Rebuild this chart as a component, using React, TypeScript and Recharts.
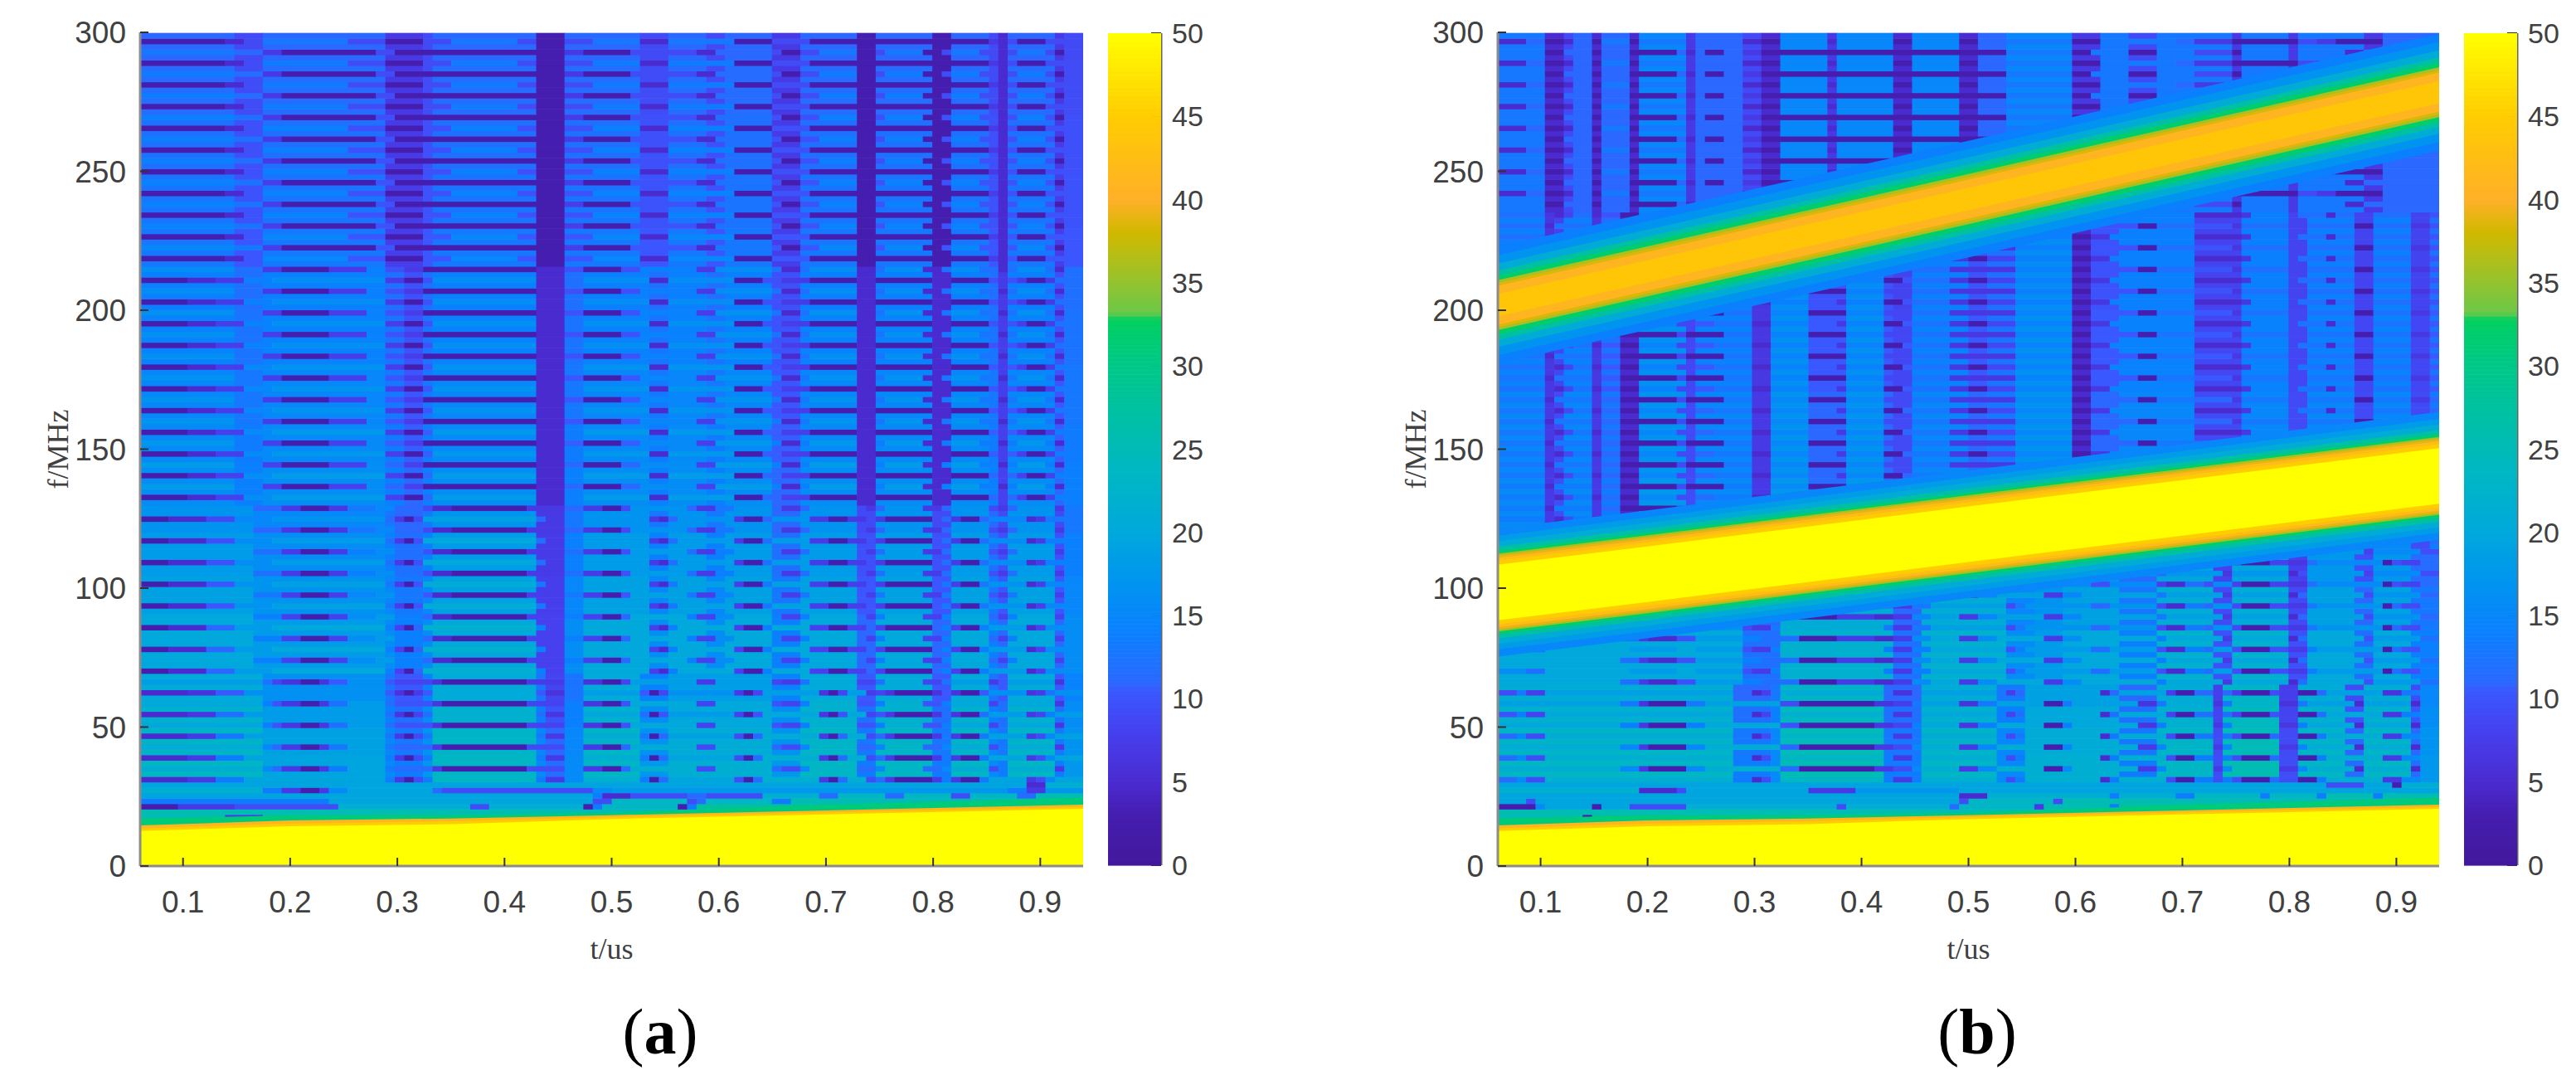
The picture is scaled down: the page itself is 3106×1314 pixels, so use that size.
import React from 'react'
import { ComposedChart, Scatter, Area, XAxis, YAxis } from 'recharts'

// one row of the spectrogram is written as "endColumn:level" pieces, level is a hex digit
// the picture has 100 time columns, and rows every 1.953 MHz
const COLUMNS = 100
const T_MIN = 0.06
const T_MAX = 0.94
const ROW_MHZ = 1.953125
const X_TICKS = [0.1, 0.2, 0.3, 0.4, 0.5, 0.6, 0.7, 0.8, 0.9]
const Y_TICKS = [0, 50, 100, 150, 200, 250, 300]
const BAR_TICKS = [0, 5, 10, 15, 20, 25, 30, 35, 40, 45, 50]

// panel a, from top to bottom: lines of phase A, lines of phase B, stripes between
const A_TOP = [
  '9:1 11:2 13:4 22:6 26:4 30:1 33:4 40:6 42:4 45:1 48:4 53:6 56:2 63:6 67:1 71:4 90:1 91:3 92:2 93:4 96:1 100:4',
  '10:6 13:5 15:3 25:1 27:4 45:1 47:3 52:1 59:4 61:2 67:5 68:4 70:1 72:4 76:6 78:1 79:4 83:6 85:1 86:4 89:6 91:4 92:2 93:4 96:6 97:4 98:1 100:4',
  '10:5 13:4 26:5 30:3 31:4 42:5 45:1 53:5 56:4 60:5 62:4 67:5 70:3 76:5 78:1 84:5 86:1 90:5 91:4 92:2 97:5 98:3 100:4',
]
const A_UPPER = [
  '5:1 8:2 11:3 14:6 26:7 28:3 30:1 31:4 42:7 45:2 47:5 54:7 56:2 63:7 66:1 68:4 71:3 76:1 78:2 84:1 86:2 90:1 91:4 92:3 93:4 94:3 96:1 97:3 100:5',
  '10:7 13:5 15:3 20:1 24:3 26:6 28:4 30:3 42:1 45:2 47:4 51:1 53:4 59:6 61:3 67:7 68:5 70:2 71:5 76:7 78:2 79:5 83:7 85:2 86:5 89:7 91:5 92:2 93:5 96:7 97:5 98:2 100:5',
  '10:6 13:5 26:6 28:5 30:4 31:5 42:6 45:2 47:5 54:6 56:5 60:6 62:5 67:6 70:4 76:6 78:2 84:6 86:2 90:6 91:5 92:3 97:6 98:4 100:5',
]
const A_LOWER = [
  '3:1 7:2 10:4 14:7 26:8 27:5 28:3 29:1 30:4 42:9 43:5 45:3 47:6 54:8 55:3 56:2 57:5 63:8 64:3 66:1 67:5 71:8 73:3 75:1 77:3 78:4 79:3 84:1 85:4 86:5 87:3 89:1 90:5 94:7 95:2 96:3 97:6 100:6',
  '12:8 15:5 17:3 20:1 22:3 25:6 27:7 28:5 30:5 31:4 33:2 41:1 43:3 45:3 47:5 49:3 51:1 52:4 58:8 59:5 61:3 63:6 67:8 68:5 70:3 71:5 76:8 77:4 78:3 79:5 83:8 85:3 86:5 90:8 91:4 92:3 93:5 97:8 98:3 100:6',
  '12:8 26:7 27:6 30:5 31:6 42:8 45:3 47:6 54:8 56:6 60:8 62:6 67:8 70:5 76:8 78:4 84:8 86:4 90:8 91:5 92:4 97:8 98:4 100:6',
]
const A_BOTTOM = [
  '5:2 8:3 11:6 26:9 27:6 28:3 29:1 30:4 31:6 42:b 43:6 45:3 47:7 53:a 54:6 55:1 56:5 63:9 64:4 65:1 66:5 72:a 73:3 74:1 75:5 77:a 78:4 79:5 80:3 84:1 85:3 86:6 87:3 89:1 90:6 94:9 95:3 96:4 97:7 100:9',
  '13:a 14:7 15:5 17:3 19:1 20:3 22:6 26:9 27:6 31:5 32:3 41:1 43:4 45:4 47:7 49:3 51:1 52:5 59:a 61:4 67:a 68:5 70:4 71:7 76:b 78:5 79:7 83:b 85:5 86:7 90:a 91:4 92:6 97:a 98:3 100:8',
  '13:b 26:9 27:7 30:6 31:8 42:b 43:7 45:5 47:7 53:b 56:8 67:a 70:8 76:b 78:6 84:b 86:6 90:b 91:7 92:6 97:b 98:6 100:8',
]
const A_ZONES = [
  { from: 215, rows: A_TOP },
  { from: 130, rows: A_UPPER },
  { from: 70, rows: A_LOWER },
  { from: 0, rows: A_BOTTOM },
]
const A_SINGLE_ROWS: Record<number, string> = {
  15: '94:9 96:2 100:a',
  14: '13:a 15:6 17:3 19:1 20:3 22:7 31:9 32:5 48:4 50:7 92:8 94:6 96:3 100:8',
  13: '48:9 49:6 52:2 58:4 60:5 66:4 72:a 74:5 79:b 81:5 86:b 88:4 93:b 95:5 100:c',
  12: '20:6 48:9 50:4 58:b 59:4 60:5 67:b 69:6 100:c',
  11: '4:1 10:3 21:4 35:a 37:4 47:a 48:1 49:6 57:b 58:1 59:6 100:d',
  10: '100:c',
  9: '9:c 13:3 100:d',
  8: '100:d',
  7: '100:d',
  6: '100:d',
  5: '100:d',
}
// how much the stripes brighten inside each frequency step
const A_LIFT_FROM = [290, 270, 250, 230, 215, 200, 180, 160, 145, 130, 120, 105, 90, 70, 60, 50, 40, 0]
const A_LIFT = [0, 0.5, 1, 1.5, 2, 1, 1.5, 2, 2.5, 3, 0, 1, 2, 3, -2.5, -1, 0, 0.5]

// panel b, same three kinds of row
const B_TOP = [
  '3:2 5:5 7:1 8:2 10:5 11:1 14:6 15:1 20:6 21:3 26:5 28:2 30:1 35:7 36:2 42:7 44:1 49:7 51:1 54:5 61:6 64:1 72:6 74:5 78:3 85:1 87:4 89:3 94:1 100:5',
  '5:6 7:1 10:5 11:1 14:5 19:1 20:5 21:2 22:5 24:1 26:5 28:3 54:1 61:6 63:1 67:6 70:1 74:6 78:4 79:1 84:6 85:3 90:6 92:2 100:5',
  '5:6 7:2 8:4 10:5 11:2 14:5 15:2 20:7 21:3 26:5 28:4 30:2 35:7 36:3 42:7 44:2 49:7 51:2 54:5 61:7 64:3 67:6 70:4 78:6 79:3 84:6 85:3 92:6 94:3 100:5',
]
const B_MIDDLE = [
  '5:6 6:3 7:2 8:4 10:6 11:2 13:5 15:1 19:7 21:4 23:5 27:6 29:2 33:7 36:5 37:3 41:7 43:1 44:5 48:6 50:3 52:1 55:4 61:7 63:1 65:3 74:7 79:2 80:3 84:7 85:4 88:6 89:2 91:6 93:4 97:6 99:4 100:5',
  '5:6 6:2 10:6 11:3 13:5 19:1 20:4 24:1 27:6 29:3 33:7 37:1 41:7 44:4 48:6 50:3 55:3 61:7 63:1 68:5 70:1 74:6 78:5 79:3 84:6 86:4 91:6 93:1 97:6 99:3 100:5',
  '5:7 6:3 7:4 10:7 11:3 13:6 15:2 20:8 21:4 27:7 29:3 33:8 37:5 41:8 42:5 44:4 50:7 52:5 55:6 61:8 63:2 66:5 74:7 79:4 84:7 86:4 91:7 93:4 97:7 99:4 100:6',
]
const B_LOWER = [
  '3:7 5:5 14:9 19:8 21:9 26:8 27:4 29:3 30:6 41:a 42:6 44:3 46:6 54:9 55:4 56:6 63:8 65:5 70:8 71:4 73:2 75:6 76:5 78:8 79:4 82:1 84:4 86:3 87:6 94:8 95:1 96:5 98:4 100:6',
  '13:9 15:5 16:3 19:2 21:4 26:8 28:6 32:5 36:1 40:3 42:2 44:3 46:7 49:9 51:3 53:7 58:9 60:3 62:7 70:9 71:6 77:9 78:3 84:9 85:2 86:5 92:9 93:4 98:8 100:5',
  '26:9 30:5 42:a 45:5 54:a 57:7 60:8 66:9 70:6 76:a 78:4 84:a 86:4 91:9 93:5 97:9 100:6',
]
const B_BOTTOM = [
  '2:5 3:7 5:4 25:a 27:6 28:2 29:4 30:7 41:b 42:6 44:3 45:6 53:a 54:7 55:4 56:6 64:a 65:2 66:6 71:a 72:4 74:1 76:6 77:4 78:6 79:4 82:1 83:5 85:4 87:1 88:6 94:a 96:3 98:7 100:8',
  '13:a 15:7 16:3 20:1 22:7 30:a 32:5 40:1 42:3 44:4 45:7 49:a 51:3 53:7 58:a 60:1 61:7 68:a 70:3 71:7 76:b 77:3 78:7 83:c 85:3 86:7 91:a 92:2 97:a 98:2 100:8',
  '25:b 29:6 30:7 41:c 45:6 53:b 56:7 66:a 70:6 76:b 77:4 83:c 85:4 90:b 92:5 97:b 98:5 100:8',
]
const B_ZONES = [
  { from: 236, rows: B_TOP },
  { from: 115, rows: B_MIDDLE },
  { from: 65, rows: B_LOWER },
  { from: 0, rows: B_BOTTOM },
]
const B_SINGLE_ROWS: Record<number, string> = {
  15: '88:9 92:4 95:9 96:1 100:a',
  14: '15:a 19:2 20:4 33:9 38:3 49:8 100:9',
  13: '49:9 52:2 65:a 66:6 72:a 74:6 81:b 82:6 87:b 88:6 93:c 94:6 100:c',
  12: '3:9 4:4 49:9 50:4 59:b 60:4 100:c',
  11: '4:1 5:7 10:9 11:1 14:9 20:4 36:a 37:4 48:a 49:5 57:b 58:3 65:c 66:6 100:d',
  10: '100:c',
  9: '9:c 10:1 100:d',
  8: '100:d',
  7: '100:d',
  6: '100:d',
  5: '100:d',
}
const B_LIFT_FROM = [236, 200, 170, 140, 115, 100, 85, 65, 58, 50, 40, 0]
const B_LIFT = [0, -1, -0.5, 0, 0.5, -1.5, 0, 1, -2, -1, 0, 0.5]

// the chirps, read at these times
const BAND_TIMES = [0.06, 0.2, 0.35, 0.5, 0.7, 0.94]
const CHIRP_GREEN = [17.1, 18.2, 18.3, 19.1, 22, 24.6]
const CHIRP_ORANGE = [14.6, 16.4, 17.1, 18.3, 20, 22.1]
const CHIRP_GOLD = [13.6, 15.3, 16.1, 17.6, 19.3, 21.3]
const CHIRP_YELLOW = [12.6, 14.3, 15.1, 16.9, 18.6, 20.6]
const UPPER_RIDGE = [201.8, 214, 227, 240, 257.6, 278.5]
const MIDDLE_RIDGE = [98.4, 105, 112.2, 119.4, 128.9, 140.4]
// half width in MHz and level of each nested band
const UPPER_WIDTHS = [21, 18, 15, 12.5, 10.7, 9, 8, 7, 4]
const UPPER_LEVELS = [14, 17, 21, 27, 32, 36, 38.5, 41, 44]
const MIDDLE_WIDTHS = [23, 20.5, 18.5, 16.5, 15, 14, 13.3, 12.5, 11.5, 10]
const MIDDLE_LEVELS = [15, 18, 21, 27, 32, 36, 39, 42, 45, 50]

const COLOR_LEVELS = [0, 3, 5, 8, 10.5, 11, 14, 17, 20, 24, 27, 30, 32.8, 33.2, 36, 38, 40, 43, 45, 47, 50]
const COLOR_VALUES = [
  '#41189c', '#451eb0', '#4a2bd0', '#4640ee', '#3a58ff', '#2a68ff', '#0a80ff', '#0094f0', '#00a8dc', '#00b8c0',
  '#00c0a4', '#00c888', '#00d060', '#6cc848', '#a8c020', '#d0b800', '#ffb028', '#ffc010', '#ffcc00', '#ffe000', '#ffff00',
]

const TEXT = '#404040'
const BORDER = '#8c8c8c'
const SANS = '"Liberation Sans", Arial, sans-serif'
const SERIF = '"Liberation Serif", serif'

function hexToRgb(hex: string) {
  return [1, 3, 5].map((i) => parseInt(hex.slice(i, i + 2), 16))
}

function colorOf(level: number) {
  let i = 0
  while (i < COLOR_LEVELS.length - 2 && level > COLOR_LEVELS[i + 1]) i++
  const share = Math.min(1, Math.max(0, (level - COLOR_LEVELS[i]) / (COLOR_LEVELS[i + 1] - COLOR_LEVELS[i])))
  const a = hexToRgb(COLOR_VALUES[i])
  const b = hexToRgb(COLOR_VALUES[i + 1])
  return `rgb(${a.map((v, n) => Math.round(v + (b[n] - v) * share)).join(',')})`
}

type Zone = { from: number; rows: string[] }

// turns the zones into merged runs of equal level
function buildCells(zones: Zone[], singles: Record<number, string>, liftFrom: number[], lifts: number[]) {
  const cells: { t: number; f: number; span: number; fill: string }[] = []
  const dt = (T_MAX - T_MIN) / COLUMNS
  for (let k = 5; k <= 153; k++) {
    const f = k * ROW_MHZ
    const zone = zones.find((z) => f >= z.from) as Zone
    const kind = k % 2 === 1 ? zone.rows[2] : k % 4 === 0 ? zone.rows[0] : zone.rows[1]
    const lift = lifts[liftFrom.findIndex((from) => f >= from)]
    let start = 0
    for (const piece of (singles[k] ?? kind).split(' ')) {
      const [end, digit] = piece.split(':')
      const span = Number(end) - start
      if (span <= 0) continue
      const base = 1 + 2 * parseInt(digit, 16)
      // dark cells keep their level, only the bright ones follow the lift
      const level = base + lift * Math.min(1, Math.max(0, (base - 5) / 6))
      cells.push({ t: T_MIN + (start + span / 2) * dt, f, span, fill: colorOf(level) })
      start = Number(end)
    }
  }
  return cells
}

function chirpBands() {
  return BAND_TIMES.map((t, i) => {
    const row: Record<string, number | number[]> = { t }
    row.green = [0, CHIRP_GREEN[i]]
    row.orange = [0, CHIRP_ORANGE[i]]
    row.gold = [0, CHIRP_GOLD[i]]
    row.yellow = [0, CHIRP_YELLOW[i]]
    UPPER_WIDTHS.forEach((w, n) => {
      row[`upper${n}`] = [UPPER_RIDGE[i] - w, UPPER_RIDGE[i] + w]
    })
    MIDDLE_WIDTHS.forEach((w, n) => {
      row[`middle${n}`] = [MIDDLE_RIDGE[i] - w, MIDDLE_RIDGE[i] + w]
    })
    return row
  })
}

const PLOT_TOP = 39
const PLOT_HEIGHT = 1005

function Panel({ left, plotWidth, zones, singles, liftFrom, lifts, withRidges }: {
  left: number
  plotWidth: number
  zones: Zone[]
  singles: Record<number, string>
  liftFrom: number[]
  lifts: number[]
  withRidges: boolean
}) {
  const cells = buildCells(zones, singles, liftFrom, lifts)
  const cellW = plotWidth / COLUMNS
  const cellH = (PLOT_HEIGHT * ROW_MHZ) / 300
  const drawCell = (props: any) => {
    const w = props.payload.span * cellW
    return <rect x={props.cx - w / 2} y={props.cy - cellH / 2} width={w + 0.6} height={cellH + 0.6} fill={props.payload.fill} />
  }
  const band = (key: string, fill: string) => (
    <Area key={key} dataKey={key} type="linear" stroke="none" fill={fill} fillOpacity={1} dot={false} activeDot={false} isAnimationActive={false} />
  )
  const tick = { fontSize: 37, fill: TEXT, fontFamily: SANS }
  return (
    <div style={{ position: 'absolute', left, top: 0 }}>
      <ComposedChart width={169 + plotWidth + 24} height={1314} data={chirpBands()} margin={{ top: PLOT_TOP, right: 24, bottom: 140, left: 49 }}>
        <XAxis
          dataKey="t" type="number" domain={[T_MIN, T_MAX]} ticks={X_TICKS} allowDataOverflow
          height={130} tickSize={-10} tickMargin={40} interval={0} tickFormatter={(v) => v.toFixed(1)}
          tick={tick} stroke={BORDER} strokeWidth={3} tickLine={{ stroke: '#333', strokeWidth: 2 }}
          label={{ value: 't/us', position: 'insideBottom', offset: 18, style: { fontSize: 36, fill: TEXT, fontFamily: SERIF, textAnchor: 'middle' } }}
        />
        <XAxis
          xAxisId="top" orientation="top" type="number" domain={[T_MIN, T_MAX]} ticks={X_TICKS} allowDataOverflow
          height={0} tickSize={-10} tickFormatter={() => ''} stroke={BORDER} strokeWidth={3} tickLine={{ stroke: '#333', strokeWidth: 2 }}
        />
        <YAxis
          dataKey="f" type="number" domain={[0, 300]} ticks={Y_TICKS} allowDataOverflow interval={0}
          width={120} tickSize={-10} tickMargin={27} tick={tick} stroke={BORDER} strokeWidth={3} tickLine={{ stroke: '#333', strokeWidth: 2 }}
          label={{ value: 'f/MHz', angle: -90, position: 'insideLeft', offset: 20, style: { fontSize: 36, fill: TEXT, fontFamily: SERIF, textAnchor: 'middle' } }}
        />
        <YAxis
          yAxisId="right" orientation="right" type="number" domain={[0, 300]} ticks={Y_TICKS} allowDataOverflow interval={0}
          width={0} tickSize={-10} tickFormatter={() => ''} stroke={BORDER} strokeWidth={3} tickLine={{ stroke: '#333', strokeWidth: 2 }}
        />
        <Scatter data={cells} shape={drawCell} isAnimationActive={false} zIndex={50} />
        {withRidges && UPPER_LEVELS.map((level, n) => band(`upper${n}`, colorOf(level)))}
        {withRidges && MIDDLE_LEVELS.map((level, n) => band(`middle${n}`, colorOf(level)))}
        {band('green', colorOf(31))}
        {band('orange', colorOf(41))}
        {band('gold', colorOf(45))}
        {band('yellow', colorOf(50))}
      </ComposedChart>
    </div>
  )
}

function ColorBar({ left }: { left: number }) {
  const levels: { t: number; f: number; fill: string }[] = []
  for (let v = 0; v < 50; v += 0.25) levels.push({ t: 0.5, f: v + 0.125, fill: colorOf(v + 0.125) })
  const barW = 64
  const barH = 1003
  const drawStep = (props: any) => (
    <rect x={props.cx - barW / 2} y={props.cy - barH / 400} width={barW} height={barH / 200 + 0.6} fill={props.payload.fill} />
  )
  return (
    <div style={{ position: 'absolute', left: left - 4, top: 0 }}>
      <ComposedChart width={164} height={1100} margin={{ top: 40, right: 4, bottom: 57, left: 4 }}>
        <XAxis dataKey="t" type="number" domain={[0, 1]} height={0} tick={false} tickLine={false} stroke="#666" strokeWidth={3} />
        <XAxis xAxisId="top" orientation="top" type="number" domain={[0, 1]} height={0} tick={false} tickLine={false} stroke="#666" strokeWidth={3} />
        <YAxis yAxisId="left" type="number" domain={[0, 50]} width={0} tick={false} tickLine={false} stroke="#666" strokeWidth={3} />
        <YAxis
          dataKey="f" orientation="right" type="number" domain={[0, 50]} ticks={BAR_TICKS} interval={0}
          width={92} tickSize={-12} tickMargin={25} tick={{ fontSize: 34, fill: TEXT, fontFamily: SANS }}
          stroke="#666" strokeWidth={3} tickLine={{ stroke: '#333', strokeWidth: 2 }}
        />
        <Scatter data={levels} shape={drawStep} isAnimationActive={false} />
      </ComposedChart>
    </div>
  )
}

function Caption({ x, letter }: { x: number; letter: string }) {
  return (
    <div style={{ position: 'absolute', left: x - 100, width: 200, top: 1199, textAlign: 'center', fontFamily: SERIF, fontSize: 78, lineHeight: '90px', color: '#000' }}>
      (<b>{letter}</b>)
    </div>
  )
}

export default function App() {
  return (
    <div style={{ position: 'absolute', left: 0, top: 0, width: 3106, height: 1314, background: '#fff', overflow: 'hidden' }}>
      <Panel left={0} plotWidth={1137} zones={A_ZONES} singles={A_SINGLE_ROWS} liftFrom={A_LIFT_FROM} lifts={A_LIFT} withRidges={false} />
      <ColorBar left={1336} />
      <Panel left={1637} plotWidth={1135} zones={B_ZONES} singles={B_SINGLE_ROWS} liftFrom={B_LIFT_FROM} lifts={B_LIFT} withRidges />
      <ColorBar left={2971} />
      <Caption x={796} letter="a" />
      <Caption x={2384} letter="b" />
    </div>
  )
}
